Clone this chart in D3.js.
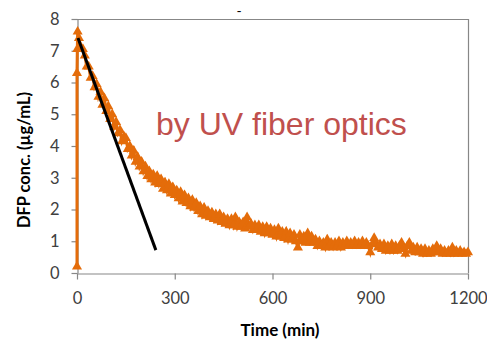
<!DOCTYPE html>
<html><head><meta charset="utf-8">
<script src="https://cdn.jsdelivr.net/npm/d3@7"></script>
<style>body{margin:0;background:#fff}svg{display:block}</style>
</head><body>
<svg id="c" width="487" height="342"></svg>
<script>
// ---- data ----
const startTimes = [0, 0, 1, 2];
const startConc = [0.2, 6.3, 7.05, 7.6];
const times = [6,12,18,24,30,36,42,48,54,60, 66,72,78,84,90,96,102,108,114,120, 126,132,138,144,150,156,162,168,174,180, 186,192,198,204,210,216,222,228,234,240, 246,252,258,264,270,276,282,288,294,300, 306,312,318,324,330,336,342,348,354,360, 366,372,378,384,390,396,402,408,414,420, 426,432,438,444,450,456,462,468,474,480, 486,492,498,504,510,516,522,528,534,540, 546,552,558,564,570,576,582,588,594,600, 606,612,618,624,630,636,642,648,654,660, 666,672,678,684,690,696,702,708,714,720, 726,732,738,744,750,756,762,768,774,780, 786,792,798,804,810,816,822,828,834,840, 846,852,858,864,870,876,882,888,894,900, 906,912,918,924,930,936,942,948,954,960, 966,972,978,984,990,996,1002,1008,1014,1020, 1026,1032,1038,1044,1050,1056,1062,1068,1074,1080, 1086,1092,1098,1104,1110,1116,1122,1128,1134,1140, 1146,1152,1158,1164,1170,1176,1182,1188,1194,1200];
const conc = [7.4,7.1,7.05,6.85,6.5,6.5,6.15,6.2,5.85,5.95, 5.55,5.7,5.3,5.5,5.1,5.25,4.85,5.0,4.6,4.75, 4.4,4.5,4.15,4.3,4.25,3.9,4.0,3.7,3.85,3.5, 3.65,3.35,3.5,3.2,3.35,3.05,3.2,2.95,3.1,2.85, 3.05,2.8,2.95,2.65,2.85,2.6,2.8,2.5,2.7,2.45, 2.6,2.35,2.55,2.25,2.45,2.2,2.35,2.1,2.3,2.05, 2.2,1.95,2.1,1.85,2.05,1.8,1.95,1.75,1.9,1.7, 1.85,1.65,1.85,1.6,1.75,1.55,1.7,1.5,1.7,1.5, 1.75,1.45,1.6,1.45,1.6,1.4,1.75,1.45,1.55,1.35, 1.5,1.35,1.5,1.3,1.45,1.25,1.45,1.25,1.4,1.2, 1.35,1.15,1.4,1.15,1.3,1.1,1.3,1.05,1.25,1.05, 1.2,1.0,0.8,1.2,1.0,1.15,0.95,1.25,0.95,1.15, 0.95,1.05,0.85,1.0,0.85,0.95,0.8,1.05,0.85,0.95, 0.8,0.95,0.85,1.0,0.8,0.95,0.85,1.0,0.85,0.95, 0.85,1.0,0.85,0.95,0.85,1.0,0.85,0.95,0.85,0.65, 0.9,1.1,0.95,0.8,0.9,0.75,0.9,0.7,0.85,0.7, 0.9,0.7,0.85,0.7,0.85,0.95,0.75,0.6,0.85,0.95, 0.7,0.8,0.65,0.8,0.65,0.75,0.6,0.75,0.6,0.7, 0.6,0.75,0.65,0.85,0.65,0.75,0.6,0.7,0.6,0.7, 0.6,0.8,0.6,0.7,0.6,0.7,0.6,0.65,0.6,0.65];
const fitTimes = [3, 242];
const fitConc = [7.4, 0.72];
const xTicks = [0, 300, 600, 900, 1200];
const yTicks = [0, 1, 2, 3, 4, 5, 6, 7, 8];
const xTitle = "Time (min)";
const yTitle = "DFP conc. (µg/mL)";
const annotation = "by UV fiber optics";

// ---- chart ----
const svg = d3.select("#c");
const L = 77, R = 468, T = 19, B = 273;
const x = d3.scaleLinear().domain([0, 1200]).range([L, R]);
const y = d3.scaleLinear().domain([0, 8]).range([B, T]);
const axisCol = "#878787";
const orange = "#E46C0A";

svg.append("line").attr("x1", L).attr("x2", R).attr("y1", T + 0.5).attr("y2", T + 0.5).attr("stroke", axisCol).attr("stroke-width", 1.2);
svg.append("line").attr("x1", R + 0.5).attr("x2", R + 0.5).attr("y1", T).attr("y2", B).attr("stroke", axisCol).attr("stroke-width", 1.2);

const fontTick = "Lato, 'Open Sans', sans-serif";
const ya = svg.append("g").attr("transform", `translate(${L + 0.5},0)`)
  .call(d3.axisLeft(y).tickValues(yTicks).tickFormat(d3.format("d")).tickSize(6).tickPadding(12).tickSizeOuter(0));
const xa = svg.append("g").attr("transform", `translate(0,${B + 0.5})`)
  .call(d3.axisBottom(x).tickValues(xTicks).tickFormat(d3.format("d")).tickSize(6).tickPadding(13).tickSizeOuter(0));
[ya, xa].forEach(g => {
  g.selectAll("path,line").attr("stroke", axisCol).attr("stroke-width", 1.2);
  g.selectAll("text").attr("fill", "#404040").style("font-family", fontTick).style("font-size", "16.5px");
});

const series = startTimes.map((t, i) => ({t, c: startConc[i]}))
  .concat(times.map((t, i) => ({t, c: conc[i]})));
svg.append("path").datum(series)
  .attr("fill", "none").attr("stroke", orange).attr("stroke-width", 3)
  .attr("d", d3.line().x(d => x(d.t)).y(d => y(d.c)));
svg.append("g").selectAll("path").data(series).join("path")
  .attr("transform", d => `translate(${x(d.t)},${y(d.c)})`)
  .attr("d", d3.symbol(d3.symbolTriangle, 44))
  .attr("fill", orange);

const fit = fitTimes.map((t, i) => ({t, c: fitConc[i]}));
svg.append("path").datum(fit)
  .attr("fill", "none").attr("stroke", "#000").attr("stroke-width", 3)
  .attr("d", d3.line().x(d => x(d.t)).y(d => y(d.c)));

svg.append("text").attr("x", 156).attr("y", 135).text(annotation)
  .attr("fill", "#C0504D").style("font-family", "'Liberation Sans', Arial, sans-serif").style("font-size", "32px");
svg.append("text").attr("x", 280).attr("y", 336).attr("text-anchor", "middle").text(xTitle)
  .attr("fill", "#000").style("font-family", fontTick).style("font-weight", "bold").style("font-size", "17px");
svg.append("text").attr("transform", "translate(30,160) rotate(-90)").attr("text-anchor", "middle").text(yTitle)
  .attr("fill", "#000").style("font-family", fontTick).style("font-weight", "bold").style("font-size", "16.5px");
svg.append("text").attr("x", 239).attr("y", 16).attr("text-anchor", "middle").text("-")
  .attr("fill", "#000").style("font-family", fontTick).style("font-size", "14px");
</script>
</body></html>
